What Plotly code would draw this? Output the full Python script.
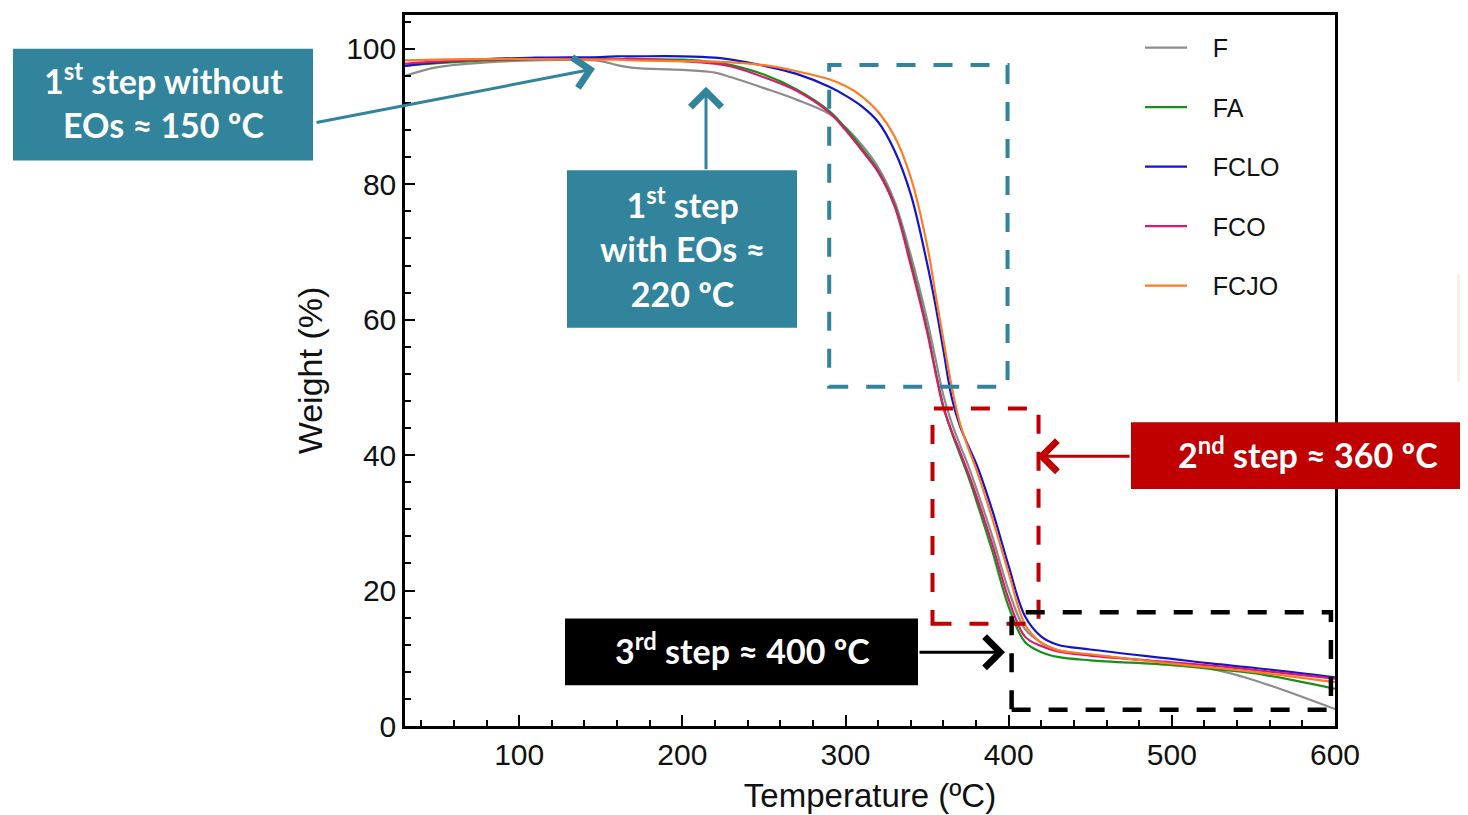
import plotly.graph_objects as go

# ---------------- data ----------------
temps = [30, 50, 80, 110, 150, 160, 170, 200, 220, 230, 250, 270, 290, 300, 310, 320, 330, 340,
         350, 355, 360, 365, 370, 375, 380, 390, 400, 410, 420, 430, 450, 500, 525, 550, 600]

w_F = [96.0, 97.3, 98.0, 98.3, 98.2, 97.6, 97.2, 96.9, 96.5, 95.8, 94.2, 92.5, 90.4, 88.4, 85.8,
       82.5, 77.5, 69.5, 60.0, 54.4, 48.8, 44.8, 41.6, 38.6, 35.2, 28.0, 20.0, 14.3, 12.3, 11.2,
       10.5, 9.3, 8.4, 6.8, 2.5]
w_FA = [97.5, 97.9, 98.3, 98.5, 98.5, 98.5, 98.5, 98.4, 98.0, 97.6, 96.2, 94.0, 90.8, 88.3, 85.3,
        82.0, 77.0, 68.5, 58.6, 52.6, 47.2, 43.4, 40.2, 37.0, 33.4, 25.8, 17.6, 12.4, 10.9, 10.2,
        9.7, 9.0, 8.4, 7.8, 5.5]
w_FCLO = [97.5, 98.0, 98.5, 98.7, 98.8, 98.9, 98.9, 98.9, 98.7, 98.4, 97.5, 96.3, 94.4, 93.1, 91.5,
          89.2, 85.0, 78.5, 68.3, 62.3, 55.5, 48.6, 44.4, 41.5, 38.8, 31.8, 23.6, 16.2, 13.2, 12.0,
          11.3, 9.9, 9.2, 8.6, 7.2]
w_FCO = [97.8, 98.1, 98.4, 98.5, 98.5, 98.5, 98.5, 98.2, 97.8, 97.4, 95.8, 93.8, 90.6, 88.0, 85.0,
         81.8, 76.8, 68.0, 58.2, 52.4, 47.0, 43.6, 40.6, 37.5, 34.1, 26.8, 18.7, 13.2, 11.8, 11.0,
         10.4, 9.4, 8.9, 8.3, 7.0]
w_FCJO = [98.3, 98.4, 98.5, 98.5, 98.4, 98.4, 98.3, 98.2, 98.1, 98.0, 97.6, 96.7, 95.5, 94.5, 93.0,
          90.7, 87.1, 81.0, 71.0, 64.0, 57.0, 50.2, 44.8, 41.2, 38.0, 30.6, 22.6, 15.0, 12.3, 11.2,
          10.6, 9.2, 8.6, 8.0, 6.5]

series_names = ["F", "FA", "FCLO", "FCO", "FCJO"]
series_values = [w_F, w_FA, w_FCLO, w_FCO, w_FCJO]
series_colors = ["#8c8c8c", "#169016", "#1414cc", "#d81b6e", "#ff7a24"]

x_ticks = [100, 200, 300, 400, 500, 600]
y_ticks = [0, 20, 40, 60, 80, 100]

# ---------------- geometry (reference screen pixels; page has 8px body margin) ----------------
OFF = 8
W, H = 1468 - OFF, 815 - OFF
L, R, T, B = 405, 1335, 12, 726          # plot area in screen pixels

def px(x):
    return (x - L) / (R - L)

def py(y):
    return (B - y) / (B - T)

fig = go.Figure()
for name, vals, col in zip(series_names, series_values, series_colors):
    fig.add_trace(go.Scatter(x=temps, y=vals, mode="lines", name="\u00a0\u00a0\u00a0" + name,
                             legendgroup=name,
                             line=dict(color=col, width=2.2, shape="spline", smoothing=1.0)))

axis_font = dict(family="Liberation Sans, Arial", size=30, color="#111")
fig.update_layout(
    width=W, height=H,
    margin=dict(l=L - OFF, r=W - (R - OFF), t=T - OFF, b=H - (B - OFF)),
    paper_bgcolor="white", plot_bgcolor="white",
    showlegend=True,
    legend=dict(x=px(1140), y=py(22), xanchor="left", yanchor="top",
                font=dict(family="Liberation Sans, Arial", size=25, color="#111"),
                tracegroupgap=24, itemwidth=42, bgcolor="rgba(0,0,0,0)"),
    xaxis=dict(range=[30, 600], tickvals=x_ticks, ticktext=[str(v) for v in x_ticks],
               ticks="inside", ticklen=11, tickwidth=2, tickcolor="black",
               minor=dict(dtick=20, tick0=0, ticks="inside", ticklen=6, tickwidth=2, tickcolor="black"),
               showline=True, linecolor="black", linewidth=2.5, mirror=True,
               showgrid=False, zeroline=False, tickfont=axis_font,
               title=dict(text="Temperature (ºC)", font=dict(family="Liberation Sans, Arial", size=33, color="#111"),
                          standoff=15)),
    yaxis=dict(range=[0, 105], tickvals=y_ticks, ticktext=[str(v) for v in y_ticks],
               ticks="inside", ticklen=10, tickwidth=2, tickcolor="black",
               minor=dict(dtick=4, tick0=0, ticks="inside", ticklen=6, tickwidth=2, tickcolor="black"),
               showline=True, linecolor="black", linewidth=2.5, mirror=True,
               showgrid=False, zeroline=False, tickfont=axis_font,
               title=dict(text="Weight (%)", font=dict(family="Liberation Sans, Arial", size=34, color="#111"),
                          standoff=14)),
)

DASH = "19px,18px"
shapes = []
# dashed highlight rectangles (data coordinates)
shapes.append(dict(type="rect", xref="x", yref="y", x0=290, x1=399.3, y0=50.1, y1=97.6,
                   line=dict(color="#31849b", width=4, dash=DASH)))
shapes.append(dict(type="rect", xref="x", yref="y", x0=353.3, x1=418.3, y0=15.1, y1=46.9,
                   line=dict(color="#c00000", width=4, dash=DASH)))
shapes.append(dict(type="rect", xref="x", yref="y", x0=401.8, x1=597.5, y0=2.4, y1=16.8,
                   line=dict(color="black", width=4.5, dash=DASH)))

# label boxes (paper coordinates)
boxes = [
    (13, 313, 46, 158, "#31849b"),
    (567, 797, 168, 326, "#31849b"),
    (1131, 1480, 421, 488, "#c00000"),
    (565, 918, 618, 685, "#000000"),
]
for x0, x1, y0, y1, c in boxes:
    shapes.append(dict(type="rect", xref="paper", yref="paper", x0=px(x0), x1=px(x1), y0=py(y1), y1=py(y0),
                       fillcolor=c, line=dict(width=0), layer="above"))
# faint decoration at right edge
shapes.append(dict(type="rect", xref="paper", yref="paper", x0=px(1457), x1=px(1480), y0=py(380), y1=py(272),
                   fillcolor="#f8ead2", line=dict(width=0), layer="below", opacity=0.7))
fig.update_layout(shapes=shapes)

box_font = dict(family="Lato, Open Sans", size=34, color="white", weight="bold")
texts = [
    (163, 98, "1<sup>st</sup> step without<br>EOs ≈ 150 ºC"),
    (682, 245, "1<sup>st</sup> step<br>with EOs ≈<br>220 ºC"),
    (1308, 452, "2<sup>nd</sup> step ≈ 360 ºC"),
    (742, 649, "3<sup>rd</sup> step ≈ 400 ºC"),
]
for cx, cy, t in texts:
    fig.add_annotation(x=px(cx), y=py(cy), xref="paper", yref="paper", text=t, showarrow=False,
                       font=box_font, xanchor="center", yanchor="middle", align="center")

arrows = [
    (595, 66, 315, 120, "#31849b"),
    (706, 84, 706, 168, "#31849b"),
    (1037, 455, 1131, 455, "#c00000"),
    (1005, 652, 918, 652, "#000000"),
]
for tx, ty, sx, sy, c in arrows:
    fig.add_annotation(x=px(tx), y=py(ty), xref="paper", yref="paper", text="",
                       showarrow=True, arrowhead=4, arrowsize=2.0, arrowwidth=3, arrowcolor=c,
                       ax=sx - tx, ay=sy - ty, standoff=0)

fig.write_html("out.html")
